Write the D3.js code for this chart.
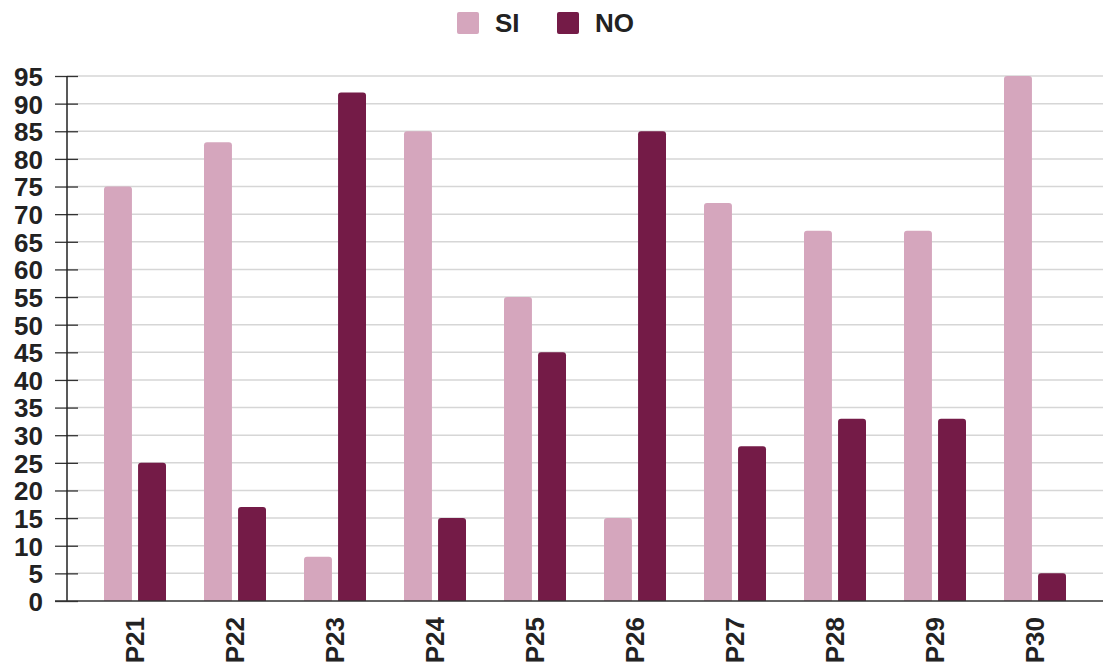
<!DOCTYPE html>
<html><head><meta charset="utf-8">
<script src="https://cdn.jsdelivr.net/npm/d3@7"></script>
<style>body{margin:0;background:#fff}svg{display:block}text{font-family:"Liberation Sans",Arial,sans-serif;font-weight:bold;fill:#222}</style>
</head><body><svg id="c" width="1107" height="672"></svg>
<script>
const categories = ["P21","P22","P23","P24","P25","P26","P27","P28","P29","P30"];
const siValues = [75,83,8,85,55,15,72,67,67,95];
const noValues = [25,17,92,15,45,85,28,33,33,5];
const seriesNames = ["SI","NO"];
const yTicks = d3.range(0,100,5);

const colors = {SI:"#d5a6bd", NO:"#741b47"};
const svg = d3.select("#c");
const L = 67, R = 1103, T = 76, B = 601;

const x = d3.scaleBand().domain(categories).range([L,R]).paddingInner(0).paddingOuter(0.18);
const xs = d3.scaleBand().domain(seriesNames).range([x.bandwidth()/2-31, x.bandwidth()/2+31]).paddingInner(0.18).paddingOuter(0);
const y = d3.scaleLinear().domain([0,95]).range([B,T]);

// grid
svg.append("g").selectAll("line").data(yTicks.filter(d=>d>0)).join("line")
  .attr("x1",L).attr("x2",R).attr("y1",d=>y(d)).attr("y2",d=>y(d))
  .attr("stroke","#d6d6d6").attr("stroke-width",1.5);

// bars
const data = categories.map((c,i)=>({c, vals:[{k:"SI",v:siValues[i]},{k:"NO",v:noValues[i]}]}));
const g = svg.append("g").selectAll("g").data(data).join("g").attr("transform",d=>`translate(${x(d.c)},0)`);
g.selectAll("path").data(d=>d.vals).join("path")
  .attr("fill",d=>colors[d.k])
  .attr("d",d=>{
    const x0 = xs(d.k), w = xs.bandwidth(), y0 = y(d.v), r = 3;
    return `M${x0},${B}V${y0+r}Q${x0},${y0} ${x0+r},${y0}H${x0+w-r}Q${x0+w},${y0} ${x0+w},${y0+r}V${B}Z`;
  });

// y axis
const yAxis = d3.axisLeft(y).tickValues(yTicks).tickSize(0).tickPadding(0);
const ya = svg.append("g").attr("transform",`translate(${L},0)`).call(yAxis);
ya.select(".domain").remove();
ya.selectAll(".tick text").attr("x",-24).attr("dy","0.36em").style("font-size","26px").style("font-family","'Liberation Sans',Arial,sans-serif").style("font-weight","bold").attr("fill","#222");
ya.selectAll(".tick").append("line").attr("x1",-12).attr("x2",11).attr("stroke","#333").attr("stroke-width",1.3);
svg.append("line").attr("x1",L).attr("x2",L).attr("y1",T).attr("y2",B).attr("stroke","#222").attr("stroke-width",1.5);
svg.append("line").attr("x1",L-12).attr("x2",R).attr("y1",B).attr("y2",B).attr("stroke","#333").attr("stroke-width",1.5);

// x axis
const xAxis = d3.axisBottom(x).tickSize(0).tickPadding(0);
const xa = svg.append("g").attr("transform",`translate(0,${B})`).call(xAxis);
xa.select(".domain").remove();
xa.selectAll(".tick text").attr("transform","translate(0,16) rotate(-90)").attr("text-anchor","end")
  .attr("x",0).attr("y",0).attr("dy","0.35em")
  .style("font-size","26px").style("font-family","'Liberation Sans',Arial,sans-serif").style("font-weight","bold").attr("fill","#222");

// legend
const leg = svg.append("g");
const legX = [457, 557];
seriesNames.forEach((s,i)=>{
  leg.append("rect").attr("x",legX[i]).attr("y",12).attr("width",22).attr("height",22).attr("rx",2).attr("fill",colors[s]);
  leg.append("text").attr("x",legX[i]+38).attr("y",23).attr("dy","0.36em").style("font-size","26px").text(s);
});
</script></body></html>
